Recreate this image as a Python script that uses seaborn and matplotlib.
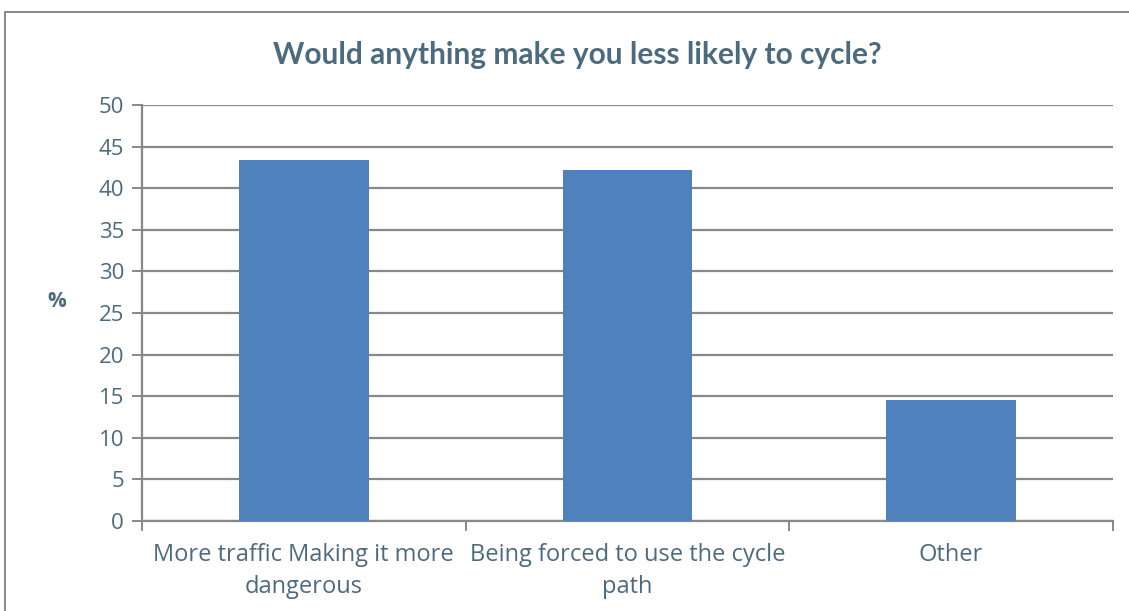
import matplotlib
matplotlib.use("Agg")
import matplotlib.pyplot as plt
import seaborn as sns
import pandas as pd
from matplotlib.patches import Rectangle

categories = ["More traffic Making it more\ndangerous",
              "Being forced to use the cycle\npath",
              "Other"]
values = [43.4, 42.2, 14.5]
y_ticks = [0, 5, 10, 15, 20, 25, 30, 35, 40, 45, 50]

TEXT = "#4D6B7E"
GRID = "#888888"
BAR = "#4F81BD"

sns.set_theme(style="white")
plt.rcParams["font.family"] = ["Open Sans", "DejaVu Sans"]

df = pd.DataFrame({"reason": categories, "pct": values})

fig = plt.figure(figsize=(11.29, 6.11), dpi=100)
ax = fig.add_axes([142 / 1129, 1 - 521 / 611, (1113 - 142) / 1129, (521 - 105) / 611])

sns.barplot(data=df, x="reason", y="pct", color=BAR, saturation=1,
            width=0.4, linewidth=0, ax=ax, zorder=3)

ax.set_ylim(0, 50)
ax.set_xlim(-0.5, len(categories) - 0.5)
ax.set_yticks(y_ticks)
ax.set_yticklabels([str(v) for v in y_ticks])
ax.yaxis.grid(True, color=GRID, linewidth=1.6, zorder=0)
ax.set_axisbelow(True)

for s in ["top", "right"]:
    ax.spines[s].set_visible(False)
for s in ["left", "bottom"]:
    ax.spines[s].set_color(GRID)
    ax.spines[s].set_linewidth(1.6)

ax.tick_params(axis="y", direction="out", length=7, width=1.4, color=GRID,
               labelsize=16, labelcolor=TEXT, pad=6, left=True)
ax.set_xticks(range(len(categories)))
ax.set_xticklabels(categories, linespacing=1.45)
ax.tick_params(axis="x", which="major", length=0, labelsize=17,
               labelcolor=TEXT, pad=16)
ax.set_xticks([i - 0.5 for i in range(len(categories) + 1)], minor=True)
ax.tick_params(axis="x", which="minor", direction="out", length=7, width=1.4,
               color=GRID, bottom=True)

ax.set_xlabel("")
ax.set_ylabel("%", rotation=0, fontsize=15, fontweight="bold", color=TEXT,
              labelpad=0)
ax.yaxis.set_label_coords(-85 / 971, (521 - 312) / 416)

fig.text(577 / 1129, 1 - 55 / 611, "Would anything make you less likely to cycle?",
         ha="center", va="center", fontsize=21.5, fontweight="bold", color=TEXT,
         family=["Lato", "DejaVu Sans"])

fig.patches.append(Rectangle((5 / 1129, -0.05), 1.2, 1 - 12 / 611 + 0.05,
                             transform=fig.transFigure, fill=False,
                             edgecolor="#8C8C8C", linewidth=1.5))

fig.savefig("out.png", dpi=100)
